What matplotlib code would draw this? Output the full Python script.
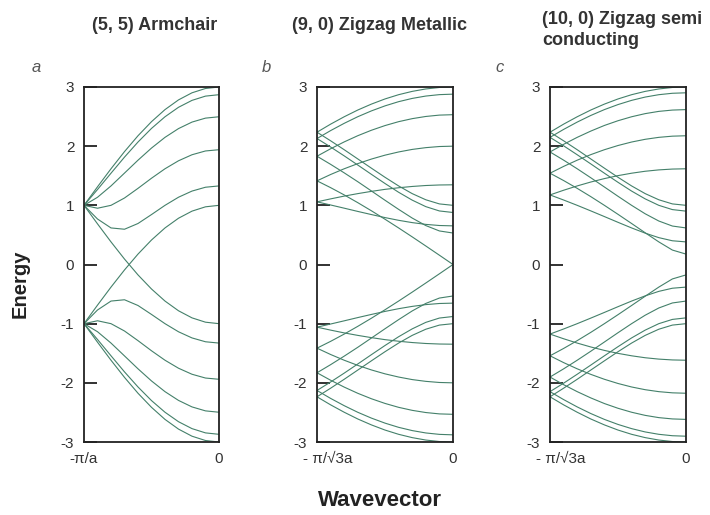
import matplotlib
matplotlib.use('Agg')
import matplotlib.pyplot as plt
import matplotlib.transforms as mtransforms

# wavevector grid, in units of the zone edge (-1 = left edge, 0 = zone centre)
k = [-1.0, -0.9, -0.8, -0.7, -0.6, -0.5, -0.4, -0.3, -0.2, -0.1, 0.0]

# upper (E > 0) branches; lower branches are the mirror image
armchair = [
    [1.000, 1.313, 1.618, 1.908, 2.176, 2.414, 2.618, 2.782, 2.902, 2.975, 3.000],
    [1.000, 1.267, 1.543, 1.815, 2.070, 2.300, 2.497, 2.657, 2.774, 2.846, 2.870],
    [1.000, 1.136, 1.328, 1.545, 1.763, 1.968, 2.149, 2.297, 2.407, 2.474, 2.497],
    [1.000, 0.951, 1.000, 1.124, 1.287, 1.458, 1.618, 1.753, 1.855, 1.919, 1.940],
    [1.000, 0.769, 0.618, 0.596, 0.693, 0.844, 1.000, 1.137, 1.241, 1.306, 1.328],
    [1.000, 0.687, 0.382, 0.092, -0.176, -0.414, -0.618, -0.782, -0.902, -0.975, -1.000],
]

zigzag_9 = [
    [2.236, 2.372, 2.497, 2.611, 2.711, 2.798, 2.870, 2.926, 2.967, 2.992, 3.000],
    [2.129, 2.263, 2.386, 2.498, 2.596, 2.681, 2.752, 2.807, 2.847, 2.871, 2.879],
    [1.830, 1.956, 2.072, 2.177, 2.269, 2.348, 2.414, 2.465, 2.502, 2.525, 2.532],
    [1.414, 1.521, 1.618, 1.705, 1.782, 1.848, 1.902, 1.945, 1.975, 1.994, 2.000],
    [1.059, 1.109, 1.156, 1.198, 1.236, 1.270, 1.297, 1.319, 1.335, 1.344, 1.347],
    [1.059, 1.006, 0.952, 0.897, 0.844, 0.793, 0.747, 0.708, 0.678, 0.659, 0.653],
    [1.414, 1.299, 1.176, 1.045, 0.908, 0.765, 0.618, 0.467, 0.313, 0.157, 0.000],
    [1.830, 1.693, 1.549, 1.399, 1.243, 1.086, 0.932, 0.785, 0.658, 0.567, 0.532],
    [2.129, 1.986, 1.836, 1.681, 1.524, 1.369, 1.221, 1.088, 0.978, 0.905, 0.879],
    [2.236, 2.091, 1.940, 1.784, 1.628, 1.474, 1.328, 1.198, 1.094, 1.024, 1.000],
]

zigzag_10 = [
    [2.236, 2.372, 2.497, 2.611, 2.711, 2.798, 2.870, 2.926, 2.967, 2.992, 3.000],
    [2.149, 2.283, 2.407, 2.519, 2.618, 2.703, 2.774, 2.830, 2.870, 2.894, 2.902],
    [1.902, 2.031, 2.149, 2.255, 2.350, 2.430, 2.497, 2.550, 2.588, 2.610, 2.618],
    [1.543, 1.658, 1.763, 1.857, 1.940, 2.011, 2.070, 2.116, 2.149, 2.169, 2.176],
    [1.176, 1.255, 1.328, 1.394, 1.452, 1.502, 1.543, 1.576, 1.599, 1.613, 1.618],
    [1.176, 1.090, 1.000, 0.906, 0.810, 0.713, 0.618, 0.530, 0.454, 0.401, 0.382],
    [1.543, 1.419, 1.287, 1.147, 1.000, 0.848, 0.693, 0.536, 0.382, 0.244, 0.176],
    [1.902, 1.764, 1.618, 1.466, 1.310, 1.153, 1.000, 0.857, 0.735, 0.650, 0.618],
    [2.149, 2.006, 1.855, 1.700, 1.543, 1.389, 1.241, 1.109, 1.000, 0.928, 0.902],
    [2.236, 2.091, 1.940, 1.784, 1.628, 1.474, 1.328, 1.198, 1.094, 1.024, 1.000],
]

titles = ['(5, 5) Armchair', '(9, 0) Zigzag Metallic', '(10, 0) Zigzag semi\nconducting']
letters = ['a', 'b', 'c']
edge_labels = ['-\u03c0/a', '- \u03c0/\u221a3a', '- \u03c0/\u221a3a']
yticks = [-3, -2, -1, 0, 1, 2, 3]

line_col = '#44806a'
text_col = '#333333'

plt.rcParams['font.family'] = ['Liberation Sans', 'DejaVu Sans']

fig = plt.figure(figsize=(7.1, 5.15), dpi=100)
W, H = 710.0, 515.0

lefts = [84, 317, 550]
widths = [135, 136, 136]
top, bottom = 87, 442

for i, bands in enumerate([armchair, zigzag_9, zigzag_10]):
    ax = fig.add_axes([lefts[i] / W, 1 - bottom / H, widths[i] / W, (bottom - top) / H])
    for b in bands:
        ax.plot(k, b, color=line_col, lw=0.8)
        ax.plot(k, [-v for v in b], color=line_col, lw=0.8)
    ax.set_xlim(-1, 0)
    ax.set_ylim(-3, 3)
    ax.set_yticks(yticks)
    ax.set_yticklabels([str(v) for v in yticks])
    ax.set_xticks([-1, 0])
    ax.set_xticklabels([edge_labels[i], '0'])
    ax.tick_params(axis='y', direction='in', length=9, width=1.3, color='#222222',
                   labelsize=11, pad=7, labelcolor=text_col)
    ax.tick_params(axis='x', length=0, labelsize=11, pad=7, labelcolor=text_col)
    if i > 0:
        lab = ax.get_xticklabels()[0]
        lab.set_transform(lab.get_transform() + mtransforms.ScaledTranslation(11 / 100, 0, fig.dpi_scale_trans))
    for s in ax.spines.values():
        s.set_color('#222222')
        s.set_linewidth(1.3)

# panel titles
fig.text(155 / W, 1 - 25 / H, titles[0], ha='center', va='center', fontsize=13,
         fontweight='bold', color=text_col)
fig.text(380 / W, 1 - 26 / H, titles[1], ha='center', va='center', fontsize=13,
         fontweight='bold', color=text_col)
fig.text(542 / W, 1 - 30 / H, titles[2], ha='left', va='center', fontsize=13,
         fontweight='bold', color=text_col, linespacing=1.35)

# panel letters
for x, y, s in zip([36, 266, 500], [68, 68, 67], letters):
    fig.text(x / W, 1 - y / H, s, ha='center', va='center', fontsize=12,
             style='italic', color='#555555')

fig.text(20 / W, 1 - 284 / H, 'Energy', rotation=90, ha='center', va='center',
         fontsize=14.5, fontweight='bold', color='#222222')
fig.text(380 / W, 1 - 500 / H, 'Wavevector', ha='center', va='center',
         fontsize=16, fontweight='bold', color='#222222')

fig.savefig('out.png', dpi=100)
